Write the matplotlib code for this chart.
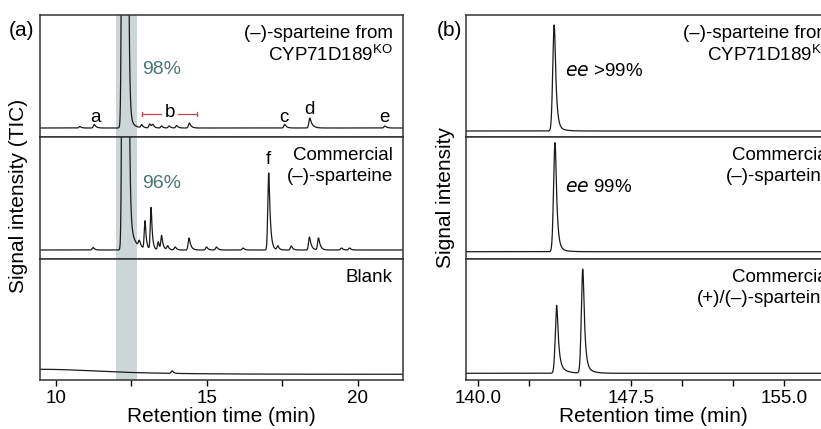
import numpy as np
import matplotlib.pyplot as plt
from matplotlib.ticker import MultipleLocator, FixedLocator

plt.rcParams['font.family'] = ['Liberation Sans', 'DejaVu Sans']

# ---- (a) GC-MS TIC traces: peak tables ----
# retention time (min), height (signal units), rise width, tail constant
ko_rt  = [10.79, 11.27, 12.28, 12.41, 12.84, 13.11, 13.21, 13.50, 13.75, 14.00, 14.42, 17.58, 18.41, 20.90]
ko_h   = [1.5,   3.5,   5000,  14,    3,     4,     3,     2,     2,     2.5,   5,     3.5,   10,    2]
ko_w   = [0.03,  0.03,  0.045, 0.02,  0.03,  0.03,  0.03,  0.03,  0.03,  0.03,  0.03,  0.03,  0.03,  0.03]
ko_tau = [0.05,  0.06,  0.028, 0.12,  0.05,  0.05,  0.05,  0.05,  0.05,  0.05,  0.06,  0.06,  0.08,  0.06]

com_rt  = [11.23, 12.29, 12.43, 12.76, 12.95, 13.15, 13.39, 13.50, 13.70, 13.95, 14.41, 14.99, 15.32, 16.20, 17.05, 17.35, 17.80, 18.40, 18.70, 19.46, 19.73]
com_h   = [2.5,   5000,  30,    6,     28,    42,    8,     14,    4,     3,     12,    3,     3,     2,     77,    4,     4,     13,    12,    2,     2]
com_w   = [0.03,  0.045, 0.02,  0.03,  0.025, 0.025, 0.025, 0.025, 0.03,  0.03,  0.03,  0.03,  0.03,  0.03,  0.03,  0.03,  0.03,  0.03,  0.03,  0.03,  0.03]
com_tau = [0.05,  0.03,  0.16,  0.05,  0.04,  0.04,  0.04,  0.05,  0.05,  0.05,  0.06,  0.05,  0.05,  0.05,  0.05,  0.05,  0.05,  0.06,  0.06,  0.05,  0.05]

blank_rt  = [9.47, 13.85]
blank_h   = [5,    2.5]
blank_w   = [2.0,  0.03]
blank_tau = [2.0,  0.05]

baseline_a = [9, 9, 5.7]

# ---- (b) chiral GC traces ----
ko_b_rt  = [143.73, 143.73]
ko_b_h   = [100, 6]
com_b_rt = [143.77, 143.77]
com_b_h  = [103, 6]
rac_b_rt = [143.85, 143.85, 145.13, 145.13]
rac_b_h  = [56, 12, 94, 10]
b_w      = [0.07, 0.03, 0.07, 0.03]
b_tau    = [0.08, 0.30, 0.08, 0.30]
baseline_b = [6, 7.3, 6.7]

left_titles = [["(\u2013)-sparteine from", "CYP71D189$^{\\mathregular{KO}}$"],
               ["Commercial", "(\u2013)-sparteine"],
               ["Blank"]]
right_titles = [["(\u2013)-sparteine from", "CYP71D189$^{\\mathregular{KO}}$"],
                ["Commercial", "(\u2013)-sparteine"],
                ["Commercial", "(+)/(\u2013)-sparteine"]]
purity = ["98%", "96%"]
ee_text = [">99%", "99%"]
b_ticks = [140.0, 147.5, 155.0]


def peak(t, rt, h, w, tau):
    # gaussian front with exponential tail, joined smoothly
    d = t - rt
    d0 = w * w / tau
    g = h * np.exp(-0.5 * (d / w) ** 2)
    e = h * np.exp(-0.5 * (d0 / w) ** 2 - (d - d0) / tau)
    return np.where(d < d0, g, e)


def trace(t, rts, hs, ws, taus, base):
    y = np.full_like(t, base)
    for rt, h, w, tau in zip(rts, hs, ws, taus):
        y += peak(t, rt, h, w, tau)
    return y


W, H = 821, 429
fig = plt.figure(figsize=(W / 100, H / 100), dpi=100)

tops = [15, 137, 259]
bots = [137, 259, 380]

def make_axes(x0, x1):
    axs = []
    for top, bot in zip(tops, bots):
        ax = fig.add_axes([x0 / W, 1 - bot / H, (x1 - x0) / W, (bot - top) / H])
        for s in ax.spines.values():
            s.set_linewidth(1.1)
            s.set_color('#333333')
        ax.set_yticks([])
        ax.set_ylim(0, bot - top)
        axs.append(ax)
    return axs

fs = 13.5
fl = 15
col = '#1a1a1a'

# ---- panel (a) ----
t_a = np.linspace(9.47, 21.5, 6000)
axA = make_axes(40, 403)
tables = [(ko_rt, ko_h, ko_w, ko_tau), (com_rt, com_h, com_w, com_tau),
          (blank_rt, blank_h, blank_w, blank_tau)]
for i, ax in enumerate(axA):
    rts, hs, ws, taus = tables[i]
    ax.axvspan(12.0, 12.68, color='#ccd6d6', zorder=0, lw=0)
    ax.plot(t_a, trace(t_a, rts, hs, ws, taus, baseline_a[i]), color=col, lw=0.9)
    ax.set_xlim(9.47, 21.5)
    ys = [0.85, 0.675]
    for j, s in enumerate(left_titles[i]):
        ax.text(0.972, ys[j], s, transform=ax.transAxes, ha='right', va='center', fontsize=fs)
    if i < 2:
        ax.tick_params(axis='x', bottom=False, labelbottom=False)

axA[0].text(13.5, 0.557, purity[0], transform=axA[0].get_xaxis_transform(),
            ha='center', va='center', fontsize=fs + 0.5, color='#4a7578')
axA[1].text(13.5, 0.615, purity[1], transform=axA[1].get_xaxis_transform(),
            ha='center', va='center', fontsize=fs + 0.5, color='#4a7578')

# peak letters
for s, x, y in [("a", 11.3, 20), ("c", 17.55, 20), ("d", 18.4, 27), ("e", 20.9, 19)]:
    axA[0].text(x, y, s, ha='center', va='center', fontsize=fs)
axA[0].text(13.77, 24.5, "b", ha='center', va='center', fontsize=fs)
red = '#c8474a'
for xa, xb in [(12.85, 13.48), (14.05, 14.67)]:
    axA[0].plot([xa, xb], [22.7, 22.7], color=red, lw=0.9)
for xe in [12.85, 14.67]:
    axA[0].plot([xe, xe], [20.7, 24.7], color=red, lw=0.9)
axA[1].text(17.05, 100, "f", ha='center', va='center', fontsize=fs)

axA[2].xaxis.set_major_locator(MultipleLocator(5))
axA[2].xaxis.set_minor_locator(MultipleLocator(2.5))
axA[2].tick_params(axis='x', which='both', length=4, width=1, labelsize=fs, pad=3)
axA[2].set_xlabel("Retention time (min)", fontsize=fl, labelpad=0)
fig.text(18 / W, 1 - 196 / H, "Signal intensity (TIC)", rotation=90,
         ha='center', va='center', fontsize=fl)
fig.text(34 / W, 1 - 31 / H, "(a)", ha='right', va='center', fontsize=15)

# ---- panel (b) ----
t_b = np.linspace(139.41, 157.74, 6000)
axB = make_axes(466, 840)
btables = [(ko_b_rt, ko_b_h, b_w[:2], b_tau[:2]),
           (com_b_rt, com_b_h, b_w[:2], b_tau[:2]),
           (rac_b_rt, rac_b_h, b_w, b_tau)]
for i, ax in enumerate(axB):
    rts, hs, ws, taus = btables[i]
    ax.plot(t_b, trace(t_b, rts, hs, ws, taus, baseline_b[i]), color=col, lw=0.9)
    ax.set_xlim(139.41, 157.74)
    ys = [0.85, 0.675]
    for j, s in enumerate(right_titles[i]):
        ax.text(0.979, ys[j], s, transform=ax.transAxes, ha='right', va='center', fontsize=fs)
    if i < 2:
        ax.tick_params(axis='x', bottom=False, labelbottom=False)

axB[0].text(144.26, 0.54, "$\\mathit{ee}$ " + ee_text[0], transform=axB[0].get_xaxis_transform(),
            ha='left', va='center', fontsize=fs)
axB[1].text(144.26, 0.59, "$\\mathit{ee}$ " + ee_text[1], transform=axB[1].get_xaxis_transform(),
            ha='left', va='center', fontsize=fs)

axB[2].xaxis.set_major_locator(FixedLocator(b_ticks))
axB[2].xaxis.set_minor_locator(MultipleLocator(2.5))
axB[2].xaxis.set_major_formatter(lambda v, p: f"{v:.1f}")
axB[2].tick_params(axis='x', which='both', length=4, width=1, labelsize=fs, pad=3)
axB[2].set_xlabel("Retention time (min)", fontsize=fl, labelpad=0)
fig.text(445 / W, 1 - 197 / H, "Signal intensity", rotation=90,
         ha='center', va='center', fontsize=fl)
fig.text(462 / W, 1 - 31 / H, "(b)", ha='right', va='center', fontsize=15)

fig.savefig("out.png", dpi=100)
